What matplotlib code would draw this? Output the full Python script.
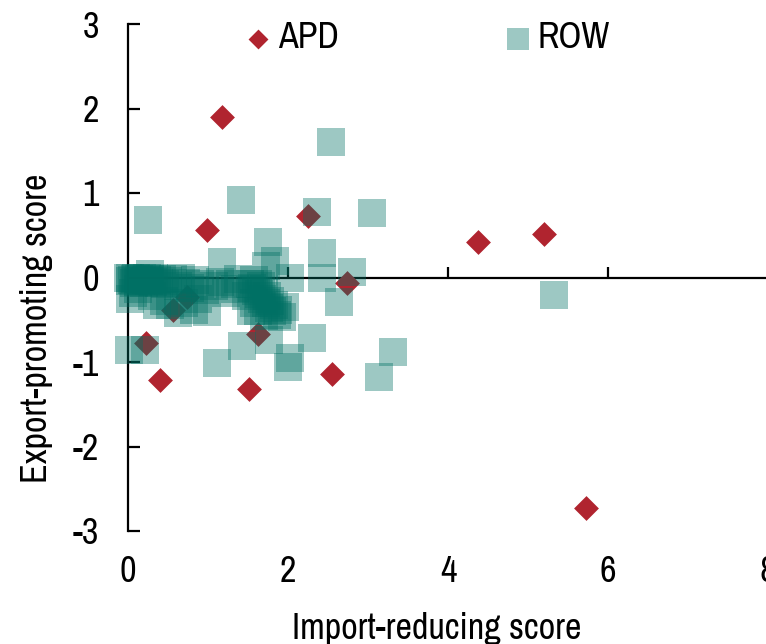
import matplotlib
matplotlib.use("Agg")
import matplotlib.pyplot as plt

plt.rcParams['font.family'] = ['Liberation Sans Narrow', 'Archivo Narrow', 'DejaVu Sans']
plt.rcParams['axes.unicode_minus'] = False

# ---- data ----
apd_x = [1.175, 0.99, 2.25, 4.375, 5.20, 2.74, 1.63, 0.225, 0.40, 1.51, 2.55, 5.725, 0.74, 0.56]
apd_y = [1.90, 0.56, 0.73, 0.42, 0.51, -0.07, -0.67, -0.78, -1.21, -1.32, -1.14, -2.73, -0.23, -0.39]

row_x = [0.25, 1.41, 2.54, 2.36, 3.05, 1.75, 2.43, 1.18, 1.84, 2.80, 2.43, 2.02, 2.64, 0.02, 0.27,
         0.01, 0.21, 1.42, 1.11, 1.76, 2.03, 2.00, 2.30, 3.14, 3.31, 5.33, 1.72,
         0.00, 0.02, 0.03, 0.05, 0.07, 0.09, 0.10, 0.12, 0.14, 0.16, 0.18, 0.20, 0.22, 0.24,
         0.26, 0.28, 0.31, 0.33, 0.36, 0.39, 0.42, 0.46, 0.50,
         0.56, 0.62, 0.66, 0.72, 0.78, 0.84, 0.90, 0.96,
         1.08, 1.15, 1.22, 1.28, 1.34, 1.38,
         1.53, 1.55, 1.58, 1.60, 1.62, 1.64, 1.66, 1.68, 1.70, 1.72, 1.74, 1.76, 1.78, 1.80,
         1.83, 1.86, 1.88, 1.92, 1.57, 1.63, 1.70,
         0.30, 0.36, 0.45, 0.53, 0.62, 0.70, 0.82, 0.99, 0.88, 0.12, 0.06,
         1.54, 1.48, 1.96]
row_y = [0.68, 0.92, 1.60, 0.78, 0.76, 0.42, 0.29, 0.18, 0.20, 0.06, 0.00, 0.00, -0.29, -0.26, 0.04,
         -0.86, -0.86, -0.81, -1.01, -0.74, -0.95, -1.06, -0.72, -1.18, -0.88, -0.21, 0.14,
         -0.01, -0.04, 0.00, -0.03, -0.06, -0.02, 0.00, -0.05, -0.02, -0.04, -0.01, -0.06, -0.03, 0.00,
         -0.04, -0.02, -0.05, -0.01, -0.03, -0.06, -0.02, -0.08, -0.04,
         -0.02, -0.10, 0.00, -0.06, -0.12, -0.03, -0.08, -0.15,
         -0.10, -0.05, -0.18, -0.08, -0.14, -0.02,
         -0.08, -0.12, -0.03, -0.16, -0.08, -0.20, -0.10, -0.26, -0.14, -0.30, -0.22, -0.36, -0.28, -0.40,
         -0.33, -0.44, -0.38, -0.47, -0.30, -0.40, -0.46,
         -0.22, -0.33, -0.28, -0.33, -0.42, -0.30, -0.38, -0.41, -0.25, -0.14, -0.18,
         -0.40, -0.22, -0.35]

x_ticks = [0, 2, 4, 6, 8]
y_ticks = [-3, -2, -1, 0, 1, 2, 3]
series_names = ["APD", "ROW"]

# ---- style ----
APD_COLOR = '#B0242F'
ROW_COLOR = '#007064'
FS = 26

fig = plt.figure(figsize=(7.66, 6.44), dpi=100)
ax = fig.add_axes([128/766, 113/644, 640/766, 507/644])

ax.scatter(apd_x, apd_y, marker='D', s=160, color=APD_COLOR, linewidths=0,
           zorder=3, clip_on=False, label=series_names[0])
ax.scatter(row_x, row_y, marker='s', s=378, color=ROW_COLOR, alpha=0.385, linewidths=0,
           zorder=4, clip_on=False, label=series_names[1])

ax.set_xlim(0, 8)
ax.set_ylim(-3, 3)

for s in ['top', 'right']:
    ax.spines[s].set_visible(False)
ax.spines['bottom'].set_position(('data', 0))
ax.spines['left'].set_linewidth(1.6)
ax.spines['bottom'].set_linewidth(1.6)

ax.set_xticks(x_ticks)
ax.set_xticklabels([str(v) for v in x_ticks])
ax.set_yticks(y_ticks)
ax.set_yticklabels([str(v) for v in y_ticks])
ax.tick_params(axis='x', direction='in', length=8, width=1.6, pad=200, labelsize=FS)
ax.tick_params(axis='y', direction='in', length=8.5, width=1.6, pad=21, labelsize=FS)

ax.set_xlabel("Import-reducing score", fontsize=FS)
ax.set_ylabel("Export-promoting score", fontsize=FS)
ax.xaxis.set_label_coords(0.483, -0.16)
ax.yaxis.set_label_coords(-0.117, 0.40)

leg = ax.legend(loc='center left', bbox_to_anchor=(247.6/766, 1 - 38/644),
                bbox_transform=fig.transFigure, ncol=2, frameon=False, fontsize=FS,
                markerscale=0.8, handlelength=0.6, handletextpad=0.25,
                columnspacing=4.65, borderpad=0, borderaxespad=0)

fig.savefig("out.png", dpi=100)
